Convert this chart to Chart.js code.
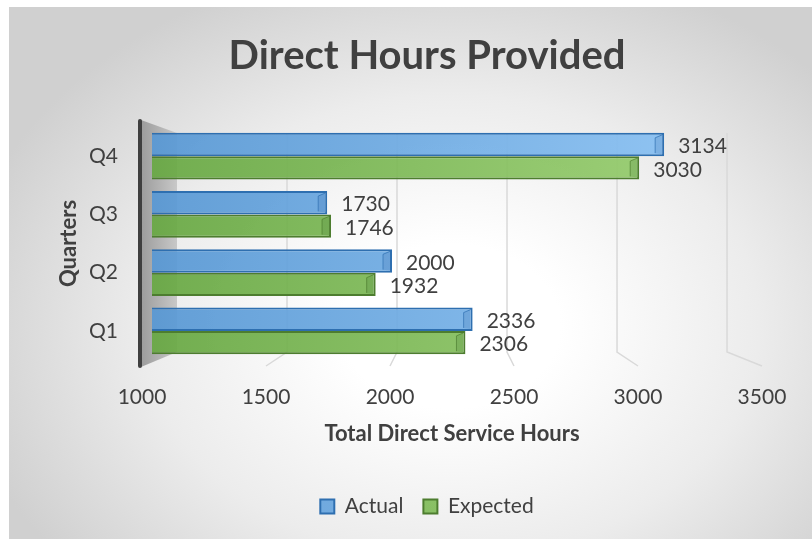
<!DOCTYPE html>
<html>
<head>
<meta charset="utf-8">
<script src="https://cdn.jsdelivr.net/npm/chart.js@4/dist/chart.umd.min.js"></script>
<style>
html, body { margin: 0; padding: 0; background: #ffffff; width: 812px; height: 539px; overflow: hidden; }
#bg { position: absolute; left: 9px; top: 7px; width: 803px; height: 532px;
  background: radial-gradient(ellipse 62% 70% at 55% 60%, #ffffff 0%, #ffffff 22%, #ececec 62%, #d0d0d0 100%); }
#c { position: absolute; left: 0; top: 0; }
</style>
</head>
<body>
<div id="bg"></div>
<canvas id="c" width="812" height="539"></canvas>
<script>
// ---- data ----
const categories = ['Q1', 'Q2', 'Q3', 'Q4'];
const actualHours = [2336, 2000, 1730, 3134];
const expectedHours = [2306, 1932, 1746, 3030];
const xTickValues = [1000, 1500, 2000, 2500, 3000, 3500];
const seriesNames = ['Actual', 'Expected'];
const chartTitle = 'Direct Hours Provided';
const xTitle = 'Total Direct Service Hours';
const yTitle = 'Quarters';

// ---- styles ----
const FONT = "Lato, 'Open Sans', sans-serif";
const TXT = '#404040';
const BLUE = { fill0: 'rgba(88,152,212,0.93)', fill1: 'rgba(142,197,246,0.93)', border: '#2e6fb0', solid: '#5b9bd5', cap: 'rgba(20,70,140,0.14)' };
const GREEN = { fill0: 'rgba(104,168,67,0.93)', fill1: 'rgba(157,210,116,0.93)', border: '#4d7d2f', solid: '#70ad47', cap: 'rgba(30,80,20,0.14)' };

function grad(c) {
  return (ctx) => {
    const ch = ctx.chart, a = ch.chartArea;
    if (!a || ctx.type !== 'data') return c.solid;
    const g = ch.ctx.createLinearGradient(a.left, 0, a.right, 0);
    g.addColorStop(0, c.fill0);
    g.addColorStop(1, c.fill1);
    return g;
  };
}

const decor = {
  id: 'decor',
  beforeDatasetsDraw(chart) {
    const { ctx, chartArea: a, scales: { x } } = chart;
    const L = a.left;
    const back = v => L + 25 + (x.getPixelForValue(v) - L) * 0.9167;
    const front = v => L - 10 + (x.getPixelForValue(v) - L) * 1.0333;
    ctx.save();
    // left side wall
    const wg = ctx.createLinearGradient(L - 11, 0, L + 25, 0);
    wg.addColorStop(0, '#9c9c9c');
    wg.addColorStop(1, '#c8c8c8');
    ctx.fillStyle = wg;
    ctx.beginPath();
    ctx.moveTo(L - 11, a.top - 7);
    ctx.lineTo(L + 25, a.top + 6);
    ctx.lineTo(L + 25, a.bottom - 8);
    ctx.lineTo(L - 11, a.bottom + 7);
    ctx.closePath();
    ctx.fill();
    // back-wall gridlines with floor segments
    ctx.strokeStyle = '#d9d9d9';
    ctx.lineWidth = 1.5;
    xTickValues.slice(1).forEach(v => {
      ctx.beginPath();
      ctx.moveTo(back(v), a.top + 6);
      ctx.lineTo(back(v), a.bottom - 8);
      ctx.lineTo(front(v), a.bottom + 6);
      ctx.stroke();
    });
    // dark vertical axis line
    ctx.strokeStyle = '#3f3f3f';
    ctx.lineWidth = 4;
    ctx.lineCap = 'round';
    ctx.beginPath();
    ctx.moveTo(L - 12, a.top - 6);
    ctx.lineTo(L - 12, a.bottom + 6);
    ctx.stroke();
    ctx.restore();
  },
  afterDatasetsDraw(chart) {
    const { ctx } = chart;
    ctx.save();
    chart.data.datasets.forEach((ds, di) => {
      const meta = chart.getDatasetMeta(di);
      const col = di === 0 ? BLUE : GREEN;
      meta.data.forEach((bar, i) => {
        const p = bar.getProps(['x', 'y', 'height'], true);
        const top = p.y - p.height / 2, bot = p.y + p.height / 2;
        // end-cap bevel
        ctx.fillStyle = col.cap;
        ctx.beginPath();
        ctx.moveTo(p.x - 9, top + 5);
        ctx.lineTo(p.x - 2, top + 2);
        ctx.lineTo(p.x - 2, bot - 2);
        ctx.lineTo(p.x - 9, bot - 3);
        ctx.closePath();
        ctx.fill();
        ctx.strokeStyle = col.border;
        ctx.globalAlpha = 0.7;
        ctx.lineWidth = 1;
        ctx.beginPath();
        ctx.moveTo(p.x - 2, top + 2);
        ctx.lineTo(p.x - 9, top + 5);
        ctx.lineTo(p.x - 9, bot - 3);
        ctx.stroke();
        ctx.globalAlpha = 1;
        // data label
        ctx.fillStyle = TXT;
        ctx.font = '21px ' + FONT;
        ctx.textAlign = 'left';
        ctx.textBaseline = 'middle';
        ctx.fillText(String(ds.data[i]), p.x + 14, p.y + 2);
      });
    });
    ctx.restore();
  },
  afterDraw(chart) {
    const { ctx, chartArea: a, scales: { x } } = chart;
    const L = a.left;
    const front = v => L - 10 + (x.getPixelForValue(v) - L) * 1.0333;
    ctx.save();
    ctx.fillStyle = TXT;
    ctx.font = '21px ' + FONT;
    ctx.textAlign = 'center';
    ctx.textBaseline = 'middle';
    xTickValues.forEach(v => ctx.fillText(String(v), front(v), a.bottom + 37));
    ctx.restore();
  }
};

new Chart(document.getElementById('c'), {
  type: 'bar',
  data: {
    labels: categories,
    datasets: [
      { label: seriesNames[0], data: actualHours, backgroundColor: grad(BLUE), borderColor: BLUE.border,
        borderWidth: 2, borderSkipped: false, categoryPercentage: 0.8, barPercentage: 1.0 },
      { label: seriesNames[1], data: expectedHours, backgroundColor: grad(GREEN), borderColor: GREEN.border,
        borderWidth: 2, borderSkipped: false, categoryPercentage: 0.8, barPercentage: 1.0 }
    ]
  },
  options: {
    indexAxis: 'y',
    responsive: false,
    animation: false,
    devicePixelRatio: 1,
    layout: { padding: { left: 42, right: 0, top: 0, bottom: 12 } },
    plugins: {
      title: { display: true, text: chartTitle, color: TXT,
        font: { family: FONT, size: 40, weight: 'bold' }, padding: { top: 32, bottom: 47 } },
      legend: { position: 'bottom',
        labels: { color: TXT, font: { family: FONT, size: 21 }, boxWidth: 14, boxHeight: 14, padding: 20 } },
      tooltip: { enabled: false }
    },
    scales: {
      x: {
        type: 'linear', min: 1000, max: 3500,
        ticks: { display: false, stepSize: 500 },
        grid: { display: false }, border: { display: false },
        title: { display: true, text: xTitle, color: TXT,
          font: { family: FONT, size: 22, weight: 'bold' }, padding: { top: 0, bottom: 28.8 } },
        afterFit: s => { s.height = 116; s.paddingRight = 60; s.paddingLeft = 0; }
      },
      y: {
        reverse: true,
        grid: { display: false, drawTicks: false }, border: { display: false },
        ticks: { color: TXT, font: { family: FONT, size: 21 }, padding: 34 },
        title: { display: true, text: yTitle, color: TXT,
          font: { family: FONT, size: 22, weight: 'bold' }, padding: { top: 13.8, bottom: 0 } },
        afterFit: s => { s.width = 110; }
      }
    }
  },
  plugins: [decor]
});
</script>
</body>
</html>
